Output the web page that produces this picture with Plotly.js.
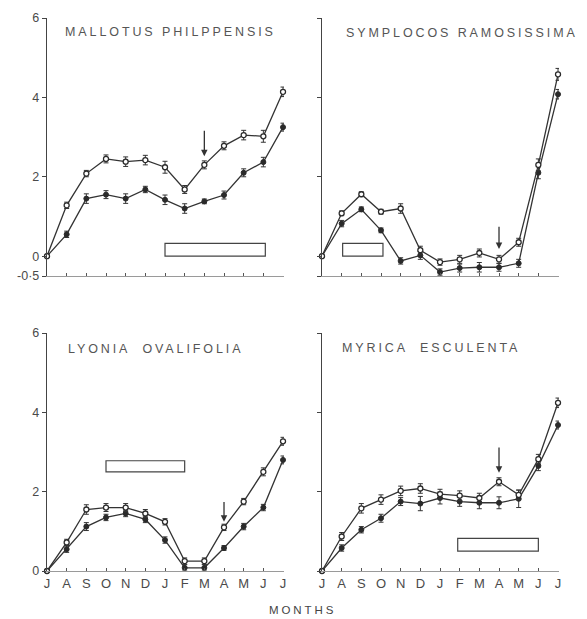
<!DOCTYPE html>
<html>
<head>
<meta charset="utf-8">
<script src="https://cdn.plot.ly/plotly-3.0.1.min.js"></script>
<style>
  html, body { margin: 0; padding: 0; background: #fff; }
  #chart { width: 587px; height: 619px; }
  .annotation-text { letter-spacing: 2.9px; }
</style>
</head>
<body>
<div id="chart"></div>
<script>
// ---- data ----
const monthIndex = [0, 1, 2, 3, 4, 5, 6, 7, 8, 9, 10, 11, 12];
const monthLabels = ['J', 'A', 'S', 'O', 'N', 'D', 'J', 'F', 'M', 'A', 'M', 'J', 'J'];

const speciesNames = ['MALLOTUS PHILPPENSIS', 'SYMPLOCOS RAMOSISSIMA', 'LYONIA  OVALIFOLIA', 'MYRICA  ESCULENTA'];

const mallotusOpen      = [0, 1.28, 2.08, 2.45, 2.38, 2.42, 2.24, 1.68, 2.30, 2.78, 3.05, 3.02, 4.14];
const mallotusOpenErr   = [0, 0.08, 0.08, 0.10, 0.12, 0.12, 0.15, 0.10, 0.10, 0.10, 0.12, 0.15, 0.12];
const mallotusFilled    = [0, 0.55, 1.45, 1.55, 1.45, 1.68, 1.42, 1.20, 1.38, 1.54, 2.10, 2.37, 3.25];
const mallotusFilledErr = [0, 0.08, 0.12, 0.10, 0.12, 0.08, 0.12, 0.12, 0.06, 0.10, 0.10, 0.12, 0.10];

const symplocosOpen      = [0, 1.08, 1.56, 1.12, 1.20, 0.15, -0.15, -0.08, 0.08, -0.08, 0.35, 2.30, 4.58];
const symplocosOpenErr   = [0, 0.06, 0.06, 0.06, 0.12, 0.10, 0.08, 0.10, 0.10, 0.10, 0.10, 0.15, 0.15];
const symplocosFilled    = [0, 0.82, 1.18, 0.65, -0.12, 0.02, -0.40, -0.30, -0.28, -0.28, -0.18, 2.10, 4.08];
const symplocosFilledErr = [0, 0.08, 0.06, 0.06, 0.08, 0.10, 0.08, 0.10, 0.12, 0.10, 0.10, 0.15, 0.12];

const lyoniaOpen      = [0, 0.72, 1.55, 1.60, 1.60, 1.45, 1.24, 0.25, 0.25, 1.10, 1.75, 2.50, 3.27];
const lyoniaOpenErr   = [0, 0.08, 0.12, 0.10, 0.10, 0.10, 0.08, 0.08, 0.08, 0.08, 0.08, 0.10, 0.10];
const lyoniaFilled    = [0, 0.55, 1.12, 1.35, 1.45, 1.30, 0.78, 0.08, 0.08, 0.58, 1.12, 1.60, 2.80];
const lyoniaFilledErr = [0, 0.08, 0.10, 0.08, 0.08, 0.08, 0.08, 0.08, 0.08, 0.06, 0.08, 0.08, 0.10];

const myricaOpen      = [0, 0.87, 1.58, 1.80, 2.02, 2.08, 1.94, 1.90, 1.84, 2.25, 1.92, 2.82, 4.24];
const myricaOpenErr   = [0, 0.10, 0.12, 0.12, 0.12, 0.12, 0.12, 0.12, 0.12, 0.10, 0.12, 0.12, 0.12];
const myricaFilled    = [0, 0.58, 1.04, 1.33, 1.75, 1.70, 1.84, 1.75, 1.72, 1.72, 1.82, 2.65, 3.68];
const myricaFilledErr = [0, 0.08, 0.08, 0.10, 0.10, 0.18, 0.15, 0.12, 0.15, 0.15, 0.22, 0.12, 0.10];

// open bars (period) per panel: start/end month, low/high value
const boxStart = [6.0, 1.05, 3.0, 6.9];
const boxEnd   = [11.1, 3.1, 7.0, 11.0];
const boxLow   = [0.0, 0.0, 2.5, 0.5];
const boxHigh  = [0.32, 0.32, 2.78, 0.82];

// arrows per panel: month, tip value, tail value
const arrowMonth = [8, 9, 9, 9];
const arrowTip   = [2.52, 0.18, 1.24, 2.48];
const arrowTail  = [3.2, 0.78, 1.78, 3.15];

// ---- drawing ----
const W = 587, H = 619;
const px = v => v / W;
const py = v => 1 - v / H;

const lineCol = '#333';
const axisCol = '#444';
const textCol = '#4a4a4a';

const panels = [
  {open: mallotusOpen, openErr: mallotusOpenErr, filled: mallotusFilled, filledErr: mallotusFilledErr},
  {open: symplocosOpen, openErr: symplocosOpenErr, filled: symplocosFilled, filledErr: symplocosFilledErr},
  {open: lyoniaOpen, openErr: lyoniaOpenErr, filled: lyoniaFilled, filledErr: lyoniaFilledErr},
  {open: myricaOpen, openErr: myricaOpenErr, filled: myricaFilled, filledErr: myricaFilledErr}
];

const traces = [];
panels.forEach((p, i) => {
  const n = i + 1;
  const xa = 'x' + (n === 1 ? '' : n);
  const ya = 'y' + (n === 1 ? '' : n);
  traces.push({
    x: monthIndex, y: p.filled, xaxis: xa, yaxis: ya, type: 'scatter', mode: 'lines+markers',
    cliponaxis: false, showlegend: false,
    line: {color: lineCol, width: 1.3},
    marker: {symbol: 'circle', size: 5, color: '#2a2a2a', line: {color: '#2a2a2a', width: 1}},
    error_y: {type: 'data', array: p.filledErr, visible: true, color: lineCol, thickness: 1, width: 2.5}
  });
  traces.push({
    x: monthIndex, y: p.open, xaxis: xa, yaxis: ya, type: 'scatter', mode: 'lines+markers',
    cliponaxis: false, showlegend: false,
    line: {color: lineCol, width: 1.3},
    marker: {symbol: 'circle', size: 5, color: '#fff', line: {color: '#2a2a2a', width: 1.3}},
    error_y: {type: 'data', array: p.openErr, visible: true, color: lineCol, thickness: 1, width: 2.5}
  });
});

const xDomL = [px(47), px(284)];
const xDomR = [px(322), px(559)];
const yDomT = [py(276), py(18)];
const yDomB = [py(571), py(333)];

function xAxis(domain, anchor, labels) {
  return {
    domain: domain, anchor: anchor, range: [0, 12.05], fixedrange: true,
    showgrid: false, zeroline: false, showline: true, linecolor: '#9a9a9a', linewidth: 1,
    tickmode: 'array', tickvals: monthIndex, ticktext: monthLabels,
    ticks: 'inside', ticklen: 3, tickwidth: 1, tickcolor: '#555',
    showticklabels: labels,
    tickfont: {family: 'Liberation Sans, Arial, sans-serif', size: 13, color: textCol}
  };
}
function yAxis(domain, anchor, range, vals, text, labels) {
  return {
    domain: domain, anchor: anchor, range: range, fixedrange: true,
    showgrid: false, zeroline: false, showline: true, linecolor: axisCol, linewidth: 1.2,
    tickmode: 'array', tickvals: vals, ticktext: text,
    ticks: 'outside', ticklen: 4, tickwidth: 1, tickcolor: axisCol,
    showticklabels: labels,
    tickfont: {family: 'Liberation Sans, Arial, sans-serif', size: 12.5, color: textCol}
  };
}

const topVals = [-0.5, 0, 2, 4, 6];
const topText = ['-0·5', '0', '2', '4', '6'];
const botVals = [0, 2, 4, 6];
const botText = ['0', '2', '4', '6'];

const shapes = [];
const annotations = [];
const titlePos = [[63, 32], [344, 33], [66, 349], [340, 348]];
for (let i = 0; i < 4; i++) {
  const n = i + 1;
  const xr = 'x' + (n === 1 ? '' : n);
  const yr = 'y' + (n === 1 ? '' : n);
  shapes.push({
    type: 'rect', xref: xr, yref: yr,
    x0: boxStart[i], x1: boxEnd[i], y0: boxLow[i], y1: boxHigh[i],
    line: {color: '#444', width: 1.2}, fillcolor: 'rgba(0,0,0,0)'
  });
  annotations.push({
    xref: xr, yref: yr, axref: xr, ayref: yr,
    x: arrowMonth[i], y: arrowTip[i], ax: arrowMonth[i], ay: arrowTail[i],
    showarrow: true, arrowhead: 2, arrowsize: 1, arrowwidth: 1.3, arrowcolor: '#333', text: ''
  });
  annotations.push({
    xref: 'paper', yref: 'paper', x: px(titlePos[i][0]), y: py(titlePos[i][1]),
    xanchor: 'left', yanchor: 'middle', showarrow: false,
    text: speciesNames[i],
    font: {family: 'Liberation Sans, Arial, sans-serif', size: 12.5, color: '#555'}
  });
}
annotations.push({
  xref: 'paper', yref: 'paper', x: px(302), y: py(610),
  xanchor: 'center', yanchor: 'middle', showarrow: false,
  text: 'MONTHS',
  font: {family: 'Liberation Sans, Arial, sans-serif', size: 11.5, color: '#444'}
});

const layout = {
  width: W, height: H,
  margin: {l: 0, r: 0, t: 0, b: 0},
  paper_bgcolor: '#fff', plot_bgcolor: 'rgba(0,0,0,0)',
  showlegend: false,
  xaxis:  xAxis(xDomL, 'y', false),
  yaxis:  yAxis(yDomT, 'x', [-0.5, 6], topVals, topText, true),
  xaxis2: xAxis(xDomR, 'y2', false),
  yaxis2: yAxis(yDomT, 'x2', [-0.5, 6], topVals, topText, false),
  xaxis3: xAxis(xDomL, 'y3', true),
  yaxis3: yAxis(yDomB, 'x3', [0, 6], botVals, botText, true),
  xaxis4: xAxis(xDomR, 'y4', true),
  yaxis4: yAxis(yDomB, 'x4', [0, 6], botVals, botText, false),
  shapes: shapes,
  annotations: annotations
};

Plotly.newPlot('chart', traces, layout, {staticPlot: true, displayModeBar: false});
</script>
</body>
</html>
